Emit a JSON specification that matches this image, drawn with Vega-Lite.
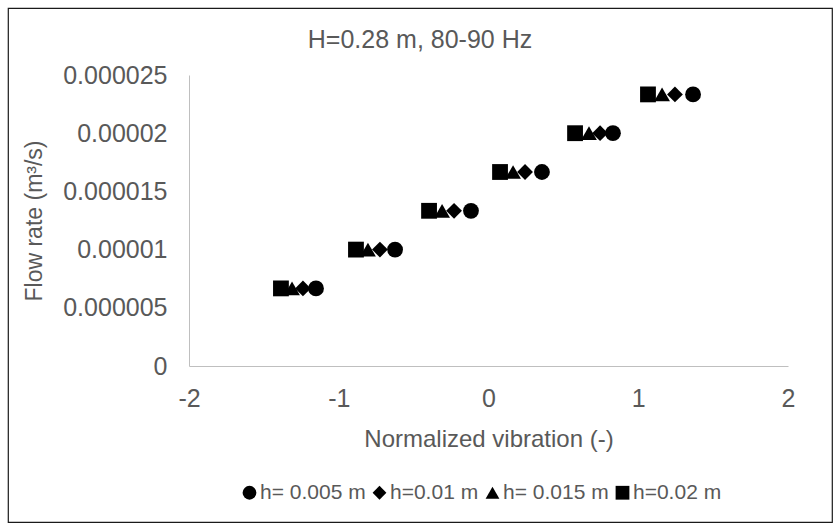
{
  "$schema": "https://vega.github.io/schema/vega-lite/v6.json",
  "width": 824,
  "height": 514,
  "autosize": {"type": "none"},
  "padding": {"left": 8, "top": 8, "right": 8, "bottom": 10},
  "background": "white",
  "config": {
    "font": "Liberation Sans",
    "view": {"stroke": "#1a1a1a", "strokeWidth": 1.2}
  },
  "title": {
    "text": "H=0.28 m, 80-90 Hz",
    "orient": "top",
    "anchor": "middle",
    "frame": "group",
    "offset": -45,
    "fontSize": 25,
    "fontWeight": "normal",
    "color": "#595959"
  },
  "data": {
    "values": [
      {"h": "h= 0.005 m", "vib": -1.152, "flow": 0.0000066667},
      {"h": "h= 0.005 m", "vib": -0.624, "flow": 0.00001},
      {"h": "h= 0.005 m", "vib": -0.117, "flow": 0.0000133333},
      {"h": "h= 0.005 m", "vib": 0.357, "flow": 0.0000166667},
      {"h": "h= 0.005 m", "vib": 0.831, "flow": 0.00002},
      {"h": "h= 0.005 m", "vib": 1.366, "flow": 0.0000233333},
      {"h": "h=0.01 m", "vib": -1.239, "flow": 0.0000066667},
      {"h": "h=0.01 m", "vib": -0.725, "flow": 0.00001},
      {"h": "h=0.01 m", "vib": -0.23, "flow": 0.0000133333},
      {"h": "h=0.01 m", "vib": 0.244, "flow": 0.0000166667},
      {"h": "h=0.01 m", "vib": 0.745, "flow": 0.00002},
      {"h": "h=0.01 m", "vib": 1.245, "flow": 0.0000233333},
      {"h": "h= 0.015 m", "vib": -1.312, "flow": 0.0000066667},
      {"h": "h= 0.015 m", "vib": -0.805, "flow": 0.00001},
      {"h": "h= 0.015 m", "vib": -0.31, "flow": 0.0000133333},
      {"h": "h= 0.015 m", "vib": 0.164, "flow": 0.0000166667},
      {"h": "h= 0.015 m", "vib": 0.671, "flow": 0.00002},
      {"h": "h= 0.015 m", "vib": 1.159, "flow": 0.0000233333},
      {"h": "h=0.02 m", "vib": -1.386, "flow": 0.0000066667},
      {"h": "h=0.02 m", "vib": -0.885, "flow": 0.00001},
      {"h": "h=0.02 m", "vib": -0.397, "flow": 0.0000133333},
      {"h": "h=0.02 m", "vib": 0.077, "flow": 0.0000166667},
      {"h": "h=0.02 m", "vib": 0.578, "flow": 0.00002},
      {"h": "h=0.02 m", "vib": 1.065, "flow": 0.0000233333}
    ]
  },
  "mark": {"type": "point", "filled": true, "color": "#000000", "opacity": 1, "size": 250},
  "encoding": {
    "x": {
      "field": "vib",
      "type": "quantitative",
      "scale": {"domain": [-2, 2], "range": [181, 780], "nice": false, "zero": false},
      "axis": {
        "orient": "bottom",
        "offset": -156,
        "values": [-2, -1, 0, 1, 2],
        "labelExpr": "'' + datum.value",
        "grid": false,
        "ticks": false,
        "domainColor": "#BFBFBF",
        "domainWidth": 1,
        "labelFlush": false,
        "labelFontSize": 25,
        "labelColor": "#595959",
        "labelPadding": 20,
        "title": "Normalized vibration (-)",
        "titleFontSize": 24,
        "titleFontWeight": "normal",
        "titleColor": "#595959",
        "titlePadding": 16
      }
    },
    "y": {
      "field": "flow",
      "type": "quantitative",
      "scale": {"domain": [0, 0.000025], "range": [358, 67], "nice": false},
      "axis": {
        "orient": "left",
        "offset": -181,
        "values": [0, 0.000005, 0.00001, 0.000015, 0.00002, 0.000025],
        "format": ".6~f",
        "grid": false,
        "ticks": false,
        "domainColor": "#BFBFBF",
        "domainWidth": 1,
        "labelFlush": false,
        "labelFontSize": 25,
        "labelColor": "#595959",
        "labelPadding": 22,
        "title": "Flow rate (m³/s)",
        "titleFontSize": 23,
        "titleFontWeight": "normal",
        "titleColor": "#595959",
        "titlePadding": 16
      }
    },
    "shape": {
      "field": "h",
      "type": "nominal",
      "sort": ["h= 0.005 m", "h=0.01 m", "h= 0.015 m", "h=0.02 m"],
      "scale": {
        "domain": ["h= 0.005 m", "h=0.01 m", "h= 0.015 m", "h=0.02 m"],
        "range": ["circle", "diamond", "triangle-up", "square"]
      },
      "legend": {
        "orient": "none",
        "legendX": 231,
        "legendY": 474,
        "direction": "horizontal",
        "title": null,
        "labelFontSize": 21,
        "labelColor": "#595959",
        "labelOffset": 0,
        "columnPadding": 3,
        "symbolSize": 190,
        "symbolFillColor": "#000000",
        "symbolStrokeColor": "#000000",
        "symbolStrokeWidth": 0
      }
    }
  }
}
